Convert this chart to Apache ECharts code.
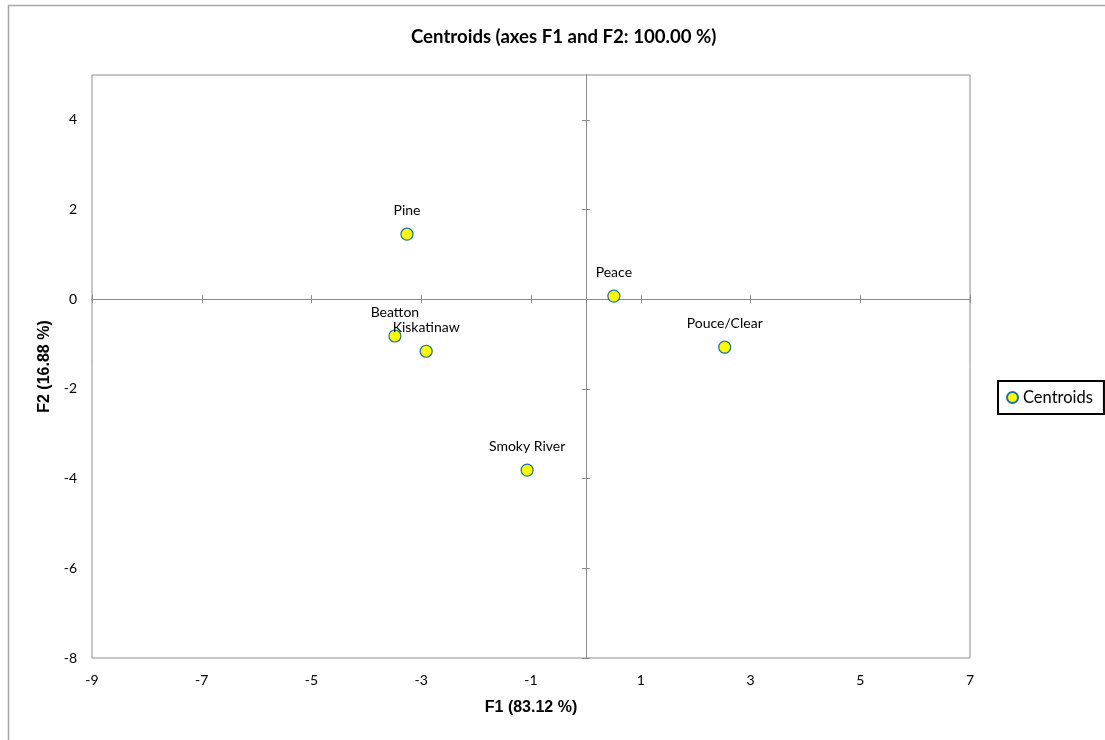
<!DOCTYPE html>
<html>
<head>
<meta charset="utf-8">
<script src="https://cdn.jsdelivr.net/npm/echarts@6/dist/echarts.min.js"></script>
<style>html,body{margin:0;padding:0;background:#fff}#c{width:1105px;height:740px}</style>
</head>
<body>
<div id="c"></div>
<script>
var names = ['Pine', 'Peace', 'Beatton', 'Kiskatinaw', 'Pouce/Clear', 'Smoky River'];
var f1 = [-3.26, 0.51, -3.48, -2.91, 2.53, -1.07];
var f2 = [1.45, 0.07, -0.82, -1.16, -1.07, -3.81];
var xTicks = [-9, -7, -5, -3, -1, 1, 3, 5, 7];
var yTicks = [-8, -6, -4, -2, 0, 2, 4];

var pts = names.map(function (n, i) { return { name: n, value: [f1[i], f2[i]] }; });
var lblFont = 'Lato, "Open Sans", sans-serif';
var boldFont = '"Liberation Sans", Arial, sans-serif';
var gray = '#8c8c8c';

var chart = echarts.init(document.getElementById('c'), null, { renderer: 'canvas' });
var xBase = { type: 'value', min: -9, max: 7, interval: 2, splitLine: { show: false } };
var yBase = { type: 'value', min: -8, max: 5, interval: 2, splitLine: { show: false } };
chart.setOption({
  animation: false,
  backgroundColor: '#fff',
  graphic: [{ type: 'rect', shape: { x: 8.5, y: 5.5, width: 1200, height: 800 }, style: { fill: 'none', stroke: '#a6a6a6', lineWidth: 1.5 }, silent: true }],
  title: { text: 'Centroids (axes F1 and F2: 100.00 %)', left: 406, top: 22,
    textStyle: { fontFamily: lblFont, fontWeight: 'bold', fontSize: 18.6, color: '#000' } },
  legend: { left: 998, top: 381, orient: 'vertical', padding: [8, 11, 8, 8], borderColor: '#000', borderWidth: 2,
    itemWidth: 11, itemHeight: 11, itemGap: 0,
    textStyle: { fontFamily: lblFont, fontSize: 16.5, color: '#000' }, data: ['Centroids'] },
  grid: { left: 92, top: 75, right: 135, bottom: 82, show: true, borderColor: gray, borderWidth: 1, backgroundColor: 'transparent' },
  xAxis: [
    Object.assign({}, xBase, { position: 'bottom', axisLine: { show: false, onZero: false }, axisTick: { show: false },
      axisLabel: { margin: 15, fontFamily: lblFont, fontSize: 14, color: '#000', customValues: xTicks },
      name: 'F1 (83.12 %)', nameLocation: 'middle', nameGap: 42,
      nameTextStyle: { fontFamily: boldFont, fontWeight: 'bold', fontSize: 16, color: '#000' } }),
    Object.assign({}, xBase, { axisLine: { show: true, onZero: true, lineStyle: { color: gray, width: 1 } },
      axisTick: { show: true, inside: true, length: 4, lineStyle: { color: gray } }, axisLabel: { show: false } }),
    Object.assign({}, xBase, { axisLine: { show: true, onZero: true, lineStyle: { color: gray, width: 1 } },
      axisTick: { show: true, inside: false, length: 4, lineStyle: { color: gray } }, axisLabel: { show: false } })
  ],
  yAxis: [
    Object.assign({}, yBase, { position: 'left', axisLine: { show: false, onZero: false }, axisTick: { show: false },
      axisLabel: { margin: 15, fontFamily: lblFont, fontSize: 14, color: '#000', customValues: yTicks },
      name: 'F2 (16.88 %)', nameLocation: 'middle', nameGap: 33,
      nameTextStyle: { fontFamily: boldFont, fontWeight: 'bold', fontSize: 16, color: '#000' } }),
    Object.assign({}, yBase, { axisLine: { show: true, onZero: true, lineStyle: { color: gray, width: 1 } },
      axisTick: { show: true, inside: true, length: 4, lineStyle: { color: gray }, customValues: yTicks }, axisLabel: { show: false } }),
    Object.assign({}, yBase, { axisLine: { show: true, onZero: true, lineStyle: { color: gray, width: 1 } },
      axisTick: { show: true, inside: false, length: 4, lineStyle: { color: gray }, customValues: yTicks }, axisLabel: { show: false } })
  ],
  series: [{
    name: 'Centroids', type: 'scatter', xAxisIndex: 0, yAxisIndex: 0,
    symbol: 'circle', symbolSize: 12,
    itemStyle: { color: '#ffff00', borderColor: '#1f6f9f', borderWidth: 1.2, opacity: 1 },
    label: { show: true, position: 'top', distance: 10, formatter: '{b}', fontFamily: lblFont, fontSize: 14, color: '#000' },
    data: pts
  }]
});
</script>
</body>
</html>
